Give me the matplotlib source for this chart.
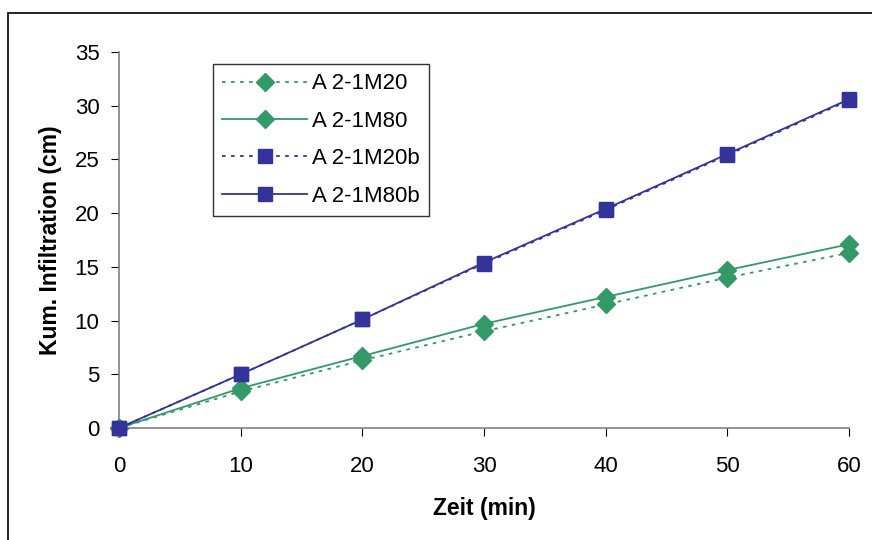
import matplotlib
matplotlib.use("Agg")
import matplotlib.pyplot as plt
from matplotlib.patches import Rectangle

zeit = [0, 10, 20, 30, 40, 50, 60]
m20 = [0, 3.4, 6.3, 9.0, 11.5, 14.0, 16.3]
m80 = [0, 3.7, 6.7, 9.7, 12.2, 14.7, 17.1]
m20b = [0, 5.0, 10.1, 15.3, 20.3, 25.4, 30.5]
m80b = [0, 5.0, 10.1, 15.4, 20.4, 25.5, 30.6]
labels = ["A 2-1M20", "A 2-1M80", "A 2-1M20b", "A 2-1M80b"]

plt.rcParams['font.family'] = ['Liberation Sans', 'DejaVu Sans']

green = "#339966"
blue = "#333399"

fig = plt.figure(figsize=(8.72, 5.4), dpi=100)
W, H = 872, 540
ax = fig.add_axes([119 / W, 1 - 428 / H, (849 - 119) / W, (428 - 52) / H])

# outer frame
fig.patches.append(Rectangle((8 / W, -0.1), 1.2, 1 - 13 / H + 0.1,
                             transform=fig.transFigure, fill=False,
                             edgecolor="black", linewidth=1.2))

common = dict(linewidth=1.3, clip_on=False, zorder=3)
ax.plot(zeit, m20, linestyle=(0, (2, 3)), color=green, marker="D", markersize=9,
        markeredgecolor=green, label=labels[0], **common)
ax.plot(zeit, m80, linestyle="-", color=green, marker="D", markersize=9,
        markeredgecolor=green, label=labels[1], **common)
ax.plot(zeit, m20b, linestyle=(0, (2, 3)), color=blue, marker="s", markersize=10.5,
        markeredgecolor=blue, label=labels[2], **common)
ax.plot(zeit, m80b, linestyle="-", color=blue, marker="s", markersize=10.5,
        markeredgecolor=blue, label=labels[3], **common)

ax.set_xlim(0, 60)
ax.set_ylim(0, 35)
ax.set_xticks(range(0, 61, 10))
ax.set_yticks(range(0, 36, 5))
for s in ["top", "right"]:
    ax.spines[s].set_visible(False)
for s in ["left", "bottom"]:
    ax.spines[s].set_color("#808080")
    ax.spines[s].set_linewidth(1.2)
ax.tick_params(axis="both", labelsize=16, color="black", length=6, direction="out")
ax.tick_params(axis="x", pad=14)
ax.tick_params(axis="y", pad=8)
ax.set_xlabel("Zeit (min)", fontsize=16.5, fontweight="bold")
ax.set_ylabel("Kum. Infiltration (cm)", fontsize=16.5, fontweight="bold")
ax.xaxis.set_label_coords(0.5, -(497 - 428) / 376)
ax.yaxis.set_label_coords((62 - 119) / 730, 0.5)

leg = ax.legend(loc="upper left", bbox_to_anchor=((213 - 119) / (849 - 119), 1 - (64 - 52) / (428 - 52)),
                fontsize=16, frameon=True, fancybox=False, edgecolor="black",
                handlelength=3.8, borderpad=0.42, labelspacing=0.74, handletextpad=0.25,
                borderaxespad=0)
leg.get_frame().set_linewidth(1.0)

fig.savefig("out.png", dpi=100)
